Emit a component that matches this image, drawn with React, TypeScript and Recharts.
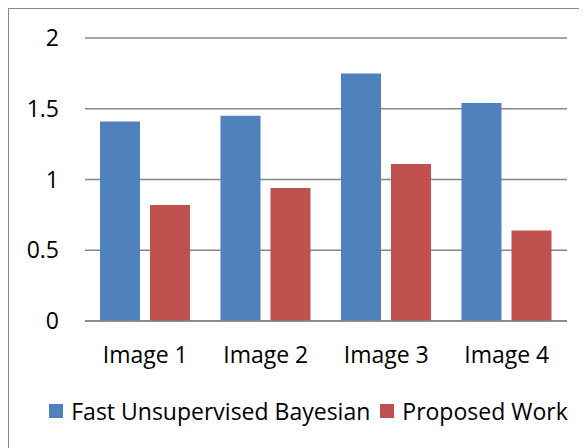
import React from 'react';
import { BarChart, Bar, XAxis, YAxis, CartesianGrid, Legend } from 'recharts';

const categories = ['Image 1', 'Image 2', 'Image 3', 'Image 4'];
const fastBayesian = [1.41, 1.45, 1.75, 1.54];
const proposedWork = [0.82, 0.94, 1.11, 0.64];
const yTicks = [0, 0.5, 1, 1.5, 2];
const seriesNames = ['Fast Unsupervised Bayesian', 'Proposed Work'];
const seriesColors = ['#4F81BD', '#C0504D'];

const data = categories.map((name, i) => ({
  name,
  fast: fastBayesian[i],
  proposed: proposedWork[i],
}));

const FONT = '"Open Sans", "Noto Sans", sans-serif';
const FONT_SIZE = 23;
const GRID = '#868686';

function LegendContent(props: any) {
  const items = props.payload || [];
  return (
    <div
      style={{
        display: 'flex',
        justifyContent: 'center',
        alignItems: 'center',
        height: 30,
        paddingLeft: 20,
        fontFamily: FONT,
        fontSize: FONT_SIZE,
        color: '#000',
      }}
    >
      {items.map((it: any, i: number) => (
        <div key={i} style={{ display: 'flex', alignItems: 'center', marginRight: i < items.length - 1 ? 10 : 0 }}>
          <span style={{ display: 'inline-block', width: 14, height: 14, background: it.color, marginRight: 8 }} />
          <span style={{ whiteSpace: 'nowrap' }}>{it.value}</span>
        </div>
      ))}
    </div>
  );
}

export default function App() {
  return (
    <div
      style={{
        position: 'relative',
        width: 579,
        height: 440,
        borderLeft: '1px solid #888',
        borderTop: '1px solid #888',
        background: '#fff',
      }}
    >
      <style>{'html,body{overflow:hidden}'}</style>
      <BarChart
        width={579}
        height={440}
        data={data}
        margin={{ top: 29, right: 21, left: 0, bottom: 0 }}
        barSize={40}
        barGap={10}
      >
        <CartesianGrid vertical={false} stroke={GRID} strokeWidth={1.5} />
        <XAxis
          dataKey="name"
          tickLine={false}
          tickSize={0}
          tickMargin={26}
          height={98}
          axisLine={{ stroke: GRID, strokeWidth: 1.5 }}
          tick={{ fill: '#000', fontSize: FONT_SIZE, fontFamily: FONT }}
        />
        <YAxis
          type="number"
          domain={[0, 2]}
          ticks={yTicks}
          width={76}
          axisLine={false}
          tickLine={false}
          tickSize={0}
          tickMargin={26}
          tick={{ fill: '#000', fontSize: FONT_SIZE, fontFamily: FONT }}
        />
        <Legend
          verticalAlign="bottom"
          content={<LegendContent />}
          wrapperStyle={{ left: 0, width: 579, top: 387, bottom: 'auto' }}
        />
        <Bar dataKey="fast" name={seriesNames[0]} fill={seriesColors[0]} isAnimationActive={false} />
        <Bar dataKey="proposed" name={seriesNames[1]} fill={seriesColors[1]} isAnimationActive={false} />
      </BarChart>
    </div>
  );
}
